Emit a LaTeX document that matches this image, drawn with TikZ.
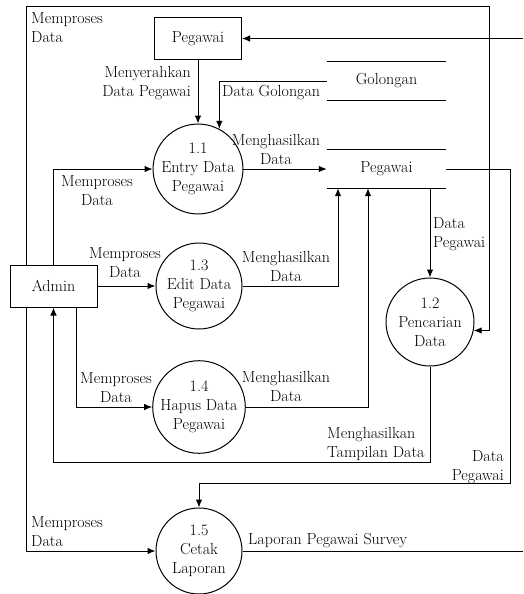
\documentclass[tikz,border=0pt]{standalone}
\usepackage{fontspec}
\usetikzlibrary{arrows.meta}
\begin{document}
\begin{tikzpicture}[x=1pt,y=-1pt,
  every node/.style={font=\fontsize{16}{19}\selectfont\addfontfeatures{FakeBold=0.4}, inner sep=0pt},
  flow/.style={draw, line width=1pt, -{Latex[length=8pt,width=6.5pt]}},
  plain/.style={draw, line width=1pt},
  proc/.style={circle, draw, line width=1pt, minimum size=86pt, align=center},
  ent/.style={rectangle, draw, line width=1pt, minimum width=87pt, minimum height=42pt},
  store/.style={minimum width=119pt, minimum height=38pt},
  lbl/.style={align=center}]
\useasboundingbox (0,0) rectangle (523,594);

% entities
\node[ent] (peg) at (198,38.5) {Pegawai};
\node[ent] (admin) at (53.5,286) {Admin};

% data stores
\node[store] (gol) at (386.5,81) {Golongan};
\node[store] (pds) at (386.5,169) {Pegawai};
\draw[plain] (gol.north west) -- (gol.north east) (gol.south west) -- (gol.south east);
\draw[plain] (pds.north west) -- (pds.north east) (pds.south west) -- (pds.south east);

% processes
\node[proc] (c11) at (198,169) {1.1\\Entry Data\\Pegawai};
\node[proc] (c13) at (199,286) {1.3\\Edit Data\\Pegawai};
\node[proc, minimum size=88pt] (c14) at (199,407) {1.4\\Hapus Data\\Pegawai};
\node[proc, minimum size=88pt] (c12) at (430,322) {1.2\\Pencarian\\Data};
\node[proc] (c15) at (199,551) {1.5\\Cetak\\Laporan};

% free ends / bends
\coordinate (r1) at (523,38.5);
\coordinate (r2) at (523,551);
\coordinate (f1) at (489,7);
\coordinate (d1) at (510,483);
\coordinate (t1) at (53.5,462);

% connectors
\draw[flow] (r1) -- (peg.east);
\draw[flow] (peg.south) -- (c11.north);
\draw[flow] (gol.west) -| (c11.62.3);
\draw[flow] (c11.east) -- (pds.west);
\draw[flow] (admin.north) |- (c11.west);
\draw[flow] (admin.east) -- (c13.west);
\draw[flow] ([xshift=22.5pt]admin.south) |- (c14.west);
\draw[flow] (c13.east) -| ([xshift=-48.5pt]pds.south);
\draw[flow] (c14.east) -| ([xshift=-18.5pt]pds.south);
\draw[flow] ([xshift=43.5pt]pds.south) -- (c12.north);
\draw[flow] (c12.south) |- (t1) -- (admin.south);
\draw[flow] ([xshift=-27.5pt]admin.north) |- (f1) |- (c12.-11.8);
\draw[flow] ([xshift=-27.5pt]admin.south) |- (c15.west);
\draw[flow] (pds.east) -| (d1) -| (c15.north);
\draw[plain] (c15.east) -- (r2);

% labels
\node[align=left, anchor=west] (l1) at (31,28) {Memproses\\Data};
\node[align=right, anchor=east] (l2) at (191,83) {Menyerahkan\\Data Pegawai};
\node[anchor=west] (l3) at (222,93) {Data Golongan};
\node[lbl] (l4) at (276,150) {Menghasilkan\\Data};
\node[lbl] (l5) at (97,191) {Memproses\\Data};
\node[lbl] (l6) at (125,263) {Memproses\\Data};
\node[lbl] (l7) at (286,267) {Menghasilkan\\Data};
\node[lbl] (l8) at (116,388) {Memproses\\Data};
\node[lbl] (l9) at (286,387) {Menghasilkan\\Data};
\node[align=left, anchor=west] (l10) at (433,234) {Data\\Pegawai};
\node[align=left, anchor=west] (l11) at (327,444) {Menghasilkan\\Tampilan Data};
\node[align=right, anchor=east] (l12) at (504,467) {Data\\Pegawai};
\node[align=left, anchor=west] (l13) at (31,532) {Memproses\\Data};
\node[anchor=west] (l14) at (248,541) {Laporan Pegawai Survey};
\end{tikzpicture}
\end{document}
